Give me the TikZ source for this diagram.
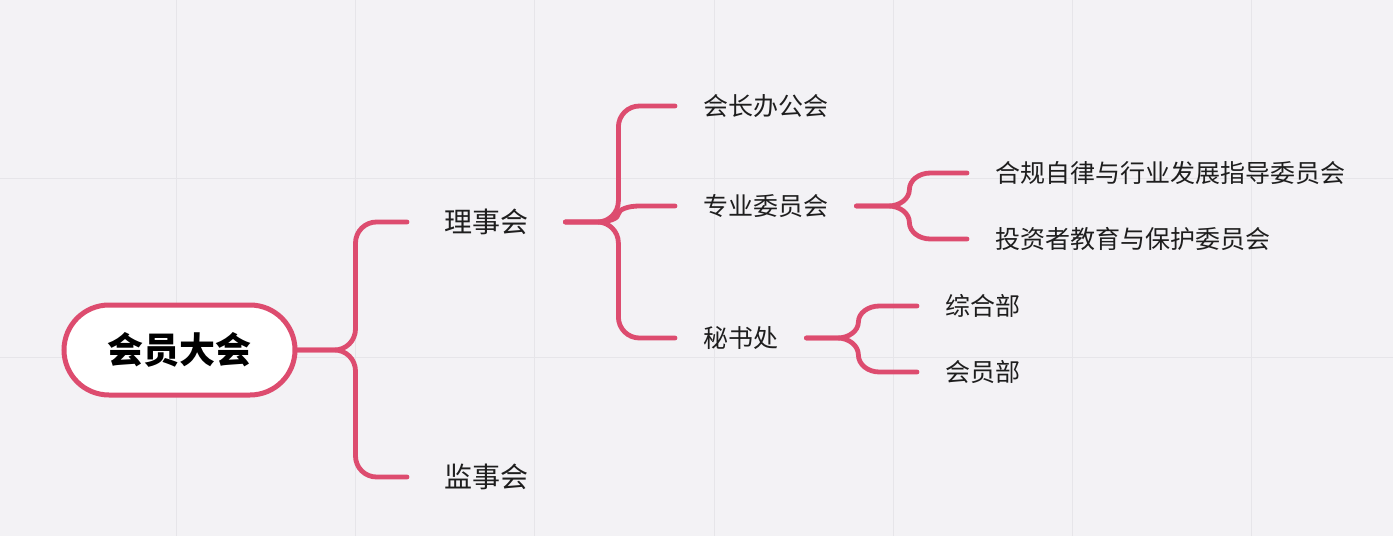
\documentclass[tikz,border=0pt]{standalone}
\usepackage{fontspec}
\setmainfont{Noto Sans CJK SC}
\usetikzlibrary{calc}
\definecolor{bgc}{HTML}{F3F2F5}
\definecolor{gridc}{HTML}{E6E5E9}
\definecolor{pinkc}{HTML}{DD4C6F}
\definecolor{txtc}{HTML}{1E1E1E}
\tikzset{
  rootbox/.style={draw=pinkc, line width=5pt, fill=white, rounded corners=45pt,
    minimum width=231pt, minimum height=90pt, inner sep=0pt, text=black,
    font=\fontsize{36pt}{40pt}\selectfont\bfseries},
  lone/.style={inner xsep=37pt, inner ysep=0pt, text=txtc, anchor=west,
    font=\fontsize{28pt}{32pt}\selectfont},
  ltwo/.style={inner xsep=28pt, inner ysep=0pt, text=txtc, anchor=west,
    font=\fontsize{25pt}{29pt}\selectfont},
  conn/.style={draw=pinkc, line width=4.8pt, line cap=round, line join=round},
  gridline/.style={draw=gridc, line width=1pt},
  brace/.style={to path={
    let \p1=(\tikztostart), \p2=(\tikztotarget),
        \n1={max(-21,min(21,(\y2-\y1)/2))},
        \n2={21}
    in -- ({\x1+#1-\n2},{\y1})
       .. controls ({\x1+#1-0.448*\n2},{\y1}) and ({\x1+#1},{\y1+0.448*\n1}) .. ({\x1+#1},{\y1+\n1})
       -- ({\x1+#1},{\y2-\n1})
       .. controls ({\x1+#1},{\y2-0.448*\n1}) and ({\x1+#1+0.448*\n2},{\y2}) .. ({\x1+#1+\n2},{\y2})
       -- (\tikztotarget)}}
}
\begin{document}
\begin{tikzpicture}[x=1pt,y=-1pt]
\fill[bgc] (0,0) rectangle (1393,536);
\useasboundingbox (0,0) rectangle (1393,536);
\foreach \gx in {176,355,534,714,893,1072,1251} \draw[gridline] (\gx,0) -- (\gx,536);
\foreach \gy in {178,357} \draw[gridline] (0,\gy) -- (1393,\gy);

\node[rootbox] (root) at (179.5,350) {会员大会};
\node[lone] (lsh) at (407,222) {理事会};
\node[lone] (jsh) at (407,477) {监事会};
\node[ltwo] (hzb) at (675,106) {会长办公会};
\node[ltwo] (zwh) at (675,206) {专业委员会};
\node[ltwo] (msc) at (675,338) {秘书处};
\node[ltwo] (hgzl) at (967,173) {合规自律与行业发展指导委员会};
\node[ltwo] (tzz) at (967,239) {投资者教育与保护委员会};
\node[ltwo] (zhb) at (917,306) {综合部};
\node[ltwo] (hyb) at (917,372) {会员部};

\draw[conn] (root.east) to[brace=58pt] (lsh.west);
\draw[conn] (root.east) to[brace=58pt] (jsh.west);
\draw[conn] (lsh.east) to[brace=53pt] (hzb.west);
\draw[conn] (lsh.east) to[brace=53pt] (zwh.west);
\draw[conn] (lsh.east) to[brace=53pt] (msc.west);
\draw[conn] (zwh.east) to[brace=53pt] (hgzl.west);
\draw[conn] (zwh.east) to[brace=53pt] (tzz.west);
\draw[conn] (msc.east) to[brace=52pt] (zhb.west);
\draw[conn] (msc.east) to[brace=52pt] (hyb.west);
\end{tikzpicture}
\end{document}
